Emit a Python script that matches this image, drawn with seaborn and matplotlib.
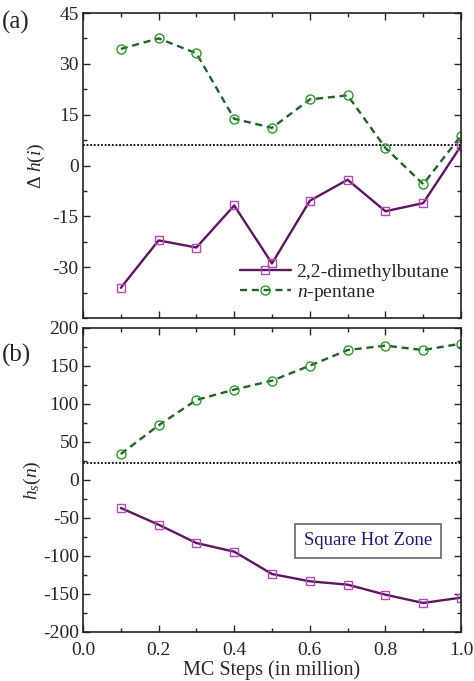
import matplotlib
matplotlib.use("Agg")
import matplotlib.pyplot as plt
import seaborn as sns
import pandas as pd
import numpy as np
from matplotlib.ticker import MultipleLocator

steps = [0.1, 0.2, 0.3, 0.4, 0.5, 0.6, 0.7, 0.8, 0.9, 1.0]
dh_dmb = [-36.1, -22.1, -24.2, -11.8, -28.9, -10.4, -4.2, -13.5, -11.1, 5.8]
dh_pent = [34.4, 37.5, 33.1, 13.8, 11.1, 19.5, 20.7, 5.2, -5.5, 8.8]
dh_ref = 6.1
hs_dmb = [-36.8, -58.8, -82.9, -94.3, -123.7, -133.3, -137.7, -150.9, -161.8, -154.8]
hs_pent = [34.2, 71.9, 105.3, 118.9, 130.7, 150.4, 171.0, 176.8, 171.0, 179.4]
hs_ref = 22.4

sns.set_theme(style="ticks")
plt.rcParams['font.family'] = ['Liberation Serif', 'DejaVu Serif']
plt.rcParams['mathtext.fontset'] = 'custom'
plt.rcParams['mathtext.it'] = 'Liberation Serif:italic'
plt.rcParams['mathtext.rm'] = 'Liberation Serif'
plt.rcParams['axes.unicode_minus'] = False

fig = plt.figure(figsize=(4.74, 6.81), dpi=100)
W, H = 474, 681
ax1 = fig.add_axes([83 / W, 1 - 318 / H, (461 - 83) / W, (318 - 13) / H])
ax2 = fig.add_axes([83 / W, 1 - 632 / H, (461 - 83) / W, (632 - 328) / H])

purple_line = '#5e1560'
purple_mk = '#b848b8'
green_line = '#24602a'
green_mk = '#2a9a2a'

def draw(ax, dmb, pent, ref, label=True):
    df1 = pd.DataFrame({'x': steps, 'y': dmb})
    df2 = pd.DataFrame({'x': steps, 'y': pent})
    sns.lineplot(data=df1, x='x', y='y', ax=ax, color=purple_line, lw=1.7,
                 marker='s', markersize=6, markerfacecolor='none',
                 markeredgecolor=purple_mk, markeredgewidth=1.0,
                 label='2,2-dimethylbutane' if label else None)
    sns.lineplot(data=df2, x='x', y='y', ax=ax, color=green_line, lw=1.7,
                 linestyle=(0, (3, 2)), marker='o', markersize=6.5,
                 markerfacecolor='none', markeredgecolor=green_mk,
                 markeredgewidth=1.0,
                 label='$n$-pentane' if label else None)
    ax.axhline(ref, color='black', lw=1.3, linestyle=(0, (1, 1)), zorder=1)
    ax.set_xlim(0, 1.0)
    ax.xaxis.set_major_locator(MultipleLocator(0.2))
    ax.xaxis.set_minor_locator(MultipleLocator(0.1))
    ax.tick_params(which='both', direction='in', top=True, right=True,
                   labelsize=14)
    ax.tick_params(which='major', length=5, width=1)
    ax.tick_params(which='minor', length=3, width=1)
    ax.tick_params(axis='x', pad=7)
    ax.tick_params(axis='y', pad=3)
    for s in ax.spines.values():
        s.set_linewidth(1.2)
        s.set_color('#222222')

draw(ax1, dh_dmb, dh_pent, dh_ref, label=True)
draw(ax2, hs_dmb, hs_pent, hs_ref, label=False)

ax1.set_ylim(-45, 45)
ax1.yaxis.set_major_locator(MultipleLocator(15))
ax1.yaxis.set_minor_locator(MultipleLocator(7.5))
ax1.set_yticks([-30, -15, 0, 15, 30, 45])
ax1.tick_params(axis='x', labelbottom=False)
ax1.set_xlabel('')
ax1.set_ylabel(r'$\Delta\ h(i)$', fontsize=14, labelpad=4)
leg = ax1.legend(loc='lower right', frameon=False, fontsize=14,
                 handlelength=2.6, borderaxespad=0.2, handletextpad=0.3,
                 labelspacing=0.15, bbox_to_anchor=(1.0, 0.01))

ax2.set_ylim(-200, 200)
ax2.yaxis.set_major_locator(MultipleLocator(50))
ax2.yaxis.set_minor_locator(MultipleLocator(25))
ax2.set_xlabel('MC Steps (in million)', fontsize=14.5, labelpad=1)
ax2.set_ylabel(r'$h_s(n)$', fontsize=14, labelpad=0)
if ax2.get_legend():
    ax2.get_legend().remove()
ax2.text(0.754, 0.30, 'Square Hot Zone', transform=ax2.transAxes,
         fontsize=13.5, color='#1a1a80', ha='center', va='center',
         bbox=dict(boxstyle='square,pad=0.45', fc='white', ec='#666666', lw=1.2))

fig.text(2 / W, 1 - 22 / H, '(a)', fontsize=18, ha='left', va='center')
fig.text(2 / W, 1 - 355 / H, '(b)', fontsize=18, ha='left', va='center')

fig.savefig('out.png', dpi=100)
